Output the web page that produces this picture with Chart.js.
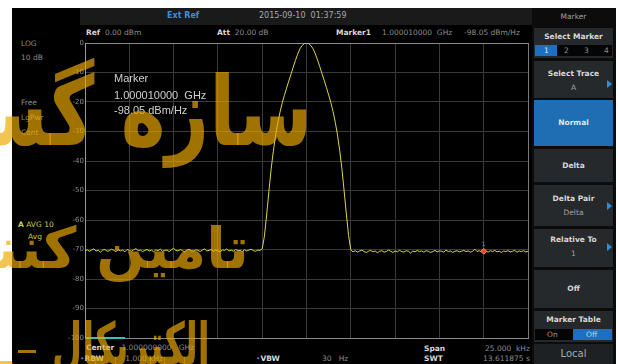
<!DOCTYPE html>
<html>
<head>
<meta charset="utf-8">
<script src="https://cdn.jsdelivr.net/npm/chart.js@4.4.1/dist/chart.umd.min.js"></script>
<style>
  html, body { margin: 0; padding: 0; background: #fff; width: 618px; height: 364px; overflow: hidden; }
  .abs { position: absolute; white-space: nowrap; }
  .t { position: absolute; white-space: nowrap; font-family: "DejaVu Sans", sans-serif; font-size: 7.5px; line-height: 10px; color: #8c8c8c; }
  .b { font-weight: bold; color: #d8d8d8; }
  .btn { position: absolute; left: 534px; width: 79px; background: #26292c; }
  .bt { position: absolute; left: 0; width: 100%; text-align: center; font-family: "DejaVu Sans", sans-serif; font-size: 7.5px; line-height: 10px; }
  .tri { position: absolute; left: 73px; width: 0; height: 0; border-top: 4px solid transparent; border-bottom: 4px solid transparent; border-left: 5px solid #2a8de0; }
  #wm { position: absolute; left: 0; top: 0; width: 618px; height: 364px; overflow: hidden; pointer-events: none; z-index: 10; }
  .w { position: absolute; white-space: nowrap; direction: rtl; font-family: "DejaVu Sans", sans-serif; font-weight: bold; color: rgba(236, 168, 0, 0.68); transform-origin: right center; }
</style>
</head>
<body>
<!-- instrument screen -->
<div class="abs" style="left:12px;top:8px;width:604px;height:356px;background:#000"></div>
<div class="abs" style="left:80px;top:8px;width:452px;height:17px;background:#1a1a1a"></div>
<div class="abs" style="left:532px;top:8px;width:84px;height:356px;background:#0c0c0c"></div>

<!-- header -->
<div class="t" style="left:167px;top:11px;color:#3a8fe0;font-weight:bold;font-size:8px">Ext Ref</div>
<div class="t" style="left:259px;top:11px;color:#a8a8a8;font-size:8px">2015-09-10&nbsp;&nbsp;01:37:59</div>

<!-- info line above the plot -->
<div class="t" style="left:86px;top:28px"><span class="b">Ref</span>&nbsp;&nbsp;0.00 dBm</div>
<div class="t" style="left:217px;top:28px"><span class="b">Att</span>&nbsp;&nbsp;20.00 dB</div>
<div class="t" style="left:336px;top:28px"><span class="b">Marker1</span></div>
<div class="t" style="left:382px;top:28px">1.000010000&nbsp;&nbsp;GHz</div>
<div class="t" style="left:464px;top:28px">-98.05 dBm/Hz</div>

<!-- left status column -->
<div class="t" style="left:21px;top:39px">LOG</div>
<div class="t" style="left:21px;top:53px">10 dB</div>
<div class="t" style="left:21px;top:98px">Free</div>
<div class="t" style="left:21px;top:113px">LgPwr</div>
<div class="t" style="left:21px;top:128px">Cont</div>
<div class="t" style="left:18px;top:220px;color:#c8cc58"><b>A</b> AVG 10</div>
<div class="t" style="left:28px;top:232px;color:#c8cc58">Avg</div>

<!-- bottom status -->
<div class="t" style="left:86px;top:343px"><span class="b">Center</span>&nbsp;&nbsp;&nbsp;1.000000000&nbsp;&nbsp;&nbsp;GHz</div>
<div class="t" style="left:80px;top:354px"><span style="color:#3a8fe0">&bull;</span><span class="b">RBW</span>&nbsp;&nbsp;&nbsp;&nbsp;&nbsp;&nbsp;&nbsp;&nbsp;&nbsp;1.000 kHz</div>
<div class="t" style="left:256px;top:354px"><span style="color:#3a8fe0">&bull;</span><span class="b">VBW</span></div>
<div class="t" style="left:322px;top:354px">30&nbsp;&nbsp;&nbsp;Hz</div>
<div class="t" style="left:424px;top:344px"><span class="b">Span</span></div>
<div class="t" style="left:485px;top:344px">25.000&nbsp;&nbsp;kHz</div>
<div class="t" style="left:424px;top:354px"><span class="b">SWT</span></div>
<div class="t" style="left:483px;top:354px">13.611875 s</div>

<!-- softkey panel -->
<div class="bt" style="left:534px;width:79px;top:12px;color:#a0a0a0;position:absolute">Marker</div>
<div class="btn" style="top:28px;height:30px">
  <div class="bt b" style="top:4px">Select Marker</div>
  <div class="abs" style="left:1px;top:17px;width:22px;height:11px;background:#1c6fc2"></div>
  <div class="abs" style="left:23px;top:17px;width:55px;height:11px;background:#050505"></div>
  <div class="t" style="left:10px;top:18px;color:#e0e0e0">1</div>
  <div class="t" style="left:30px;top:18px">2</div>
  <div class="t" style="left:50px;top:18px">3</div>
  <div class="t" style="left:70px;top:18px">4</div>
</div>
<div class="btn" style="top:61px;height:37px">
  <div class="bt b" style="top:8px">Select Trace</div>
  <div class="bt" style="top:22px;color:#a0a0a0">A</div>
  <div class="tri" style="top:19px"></div>
</div>
<div class="btn" style="top:100px;height:46px;background:#1f6db3">
  <div class="bt b" style="top:18px;color:#dfe8f0">Normal</div>
</div>
<div class="btn" style="top:149px;height:33px">
  <div class="bt b" style="top:12px">Delta</div>
</div>
<div class="btn" style="top:185px;height:41px">
  <div class="bt b" style="top:9px">Delta Pair</div>
  <div class="bt" style="top:23px;color:#a0a0a0">Delta</div>
  <div class="tri" style="top:17px"></div>
</div>
<div class="btn" style="top:229px;height:38px">
  <div class="bt b" style="top:6px">Relative To</div>
  <div class="bt" style="top:20px;color:#a0a0a0">1</div>
  <div class="tri" style="top:14px"></div>
</div>
<div class="btn" style="top:270px;height:38px">
  <div class="bt b" style="top:14px">Off</div>
</div>
<div class="btn" style="top:311px;height:31px">
  <div class="bt b" style="top:4px">Marker Table</div>
  <div class="abs" style="left:1px;top:18px;width:38px;height:11px;background:#050505"></div>
  <div class="abs" style="left:39px;top:18px;width:39px;height:11px;background:#1c6fc2"></div>
  <div class="t" style="left:13px;top:19px;color:#9a9a9a">On</div>
  <div class="t" style="left:52px;top:19px;color:#d0d0d0">Off</div>
</div>
<div class="btn" style="top:344px;height:20px;background:#1e2124">
  <div class="bt" style="top:4px;font-size:10px;line-height:12px;color:#a8a8a8">Local</div>
</div>

<!-- trace display -->
<canvas id="c" width="618" height="364" style="position:absolute;left:0;top:0"></canvas>

<!-- marker readout inside the graticule -->
<div class="abs" style="left:114px;top:71px;font-family:'Liberation Sans',Arial,sans-serif;font-size:11px;line-height:14px;color:#cfcfcf">Marker</div>
<div class="abs" style="left:114px;top:88px;font-family:'Liberation Sans',Arial,sans-serif;font-size:11px;line-height:14px;color:#cfcfcf">1.000010000&nbsp;&nbsp;GHz</div>
<div class="abs" style="left:114px;top:103px;font-family:'Liberation Sans',Arial,sans-serif;font-size:11px;line-height:14px;color:#cfcfcf">-98.05 dBm/Hz</div>

<!-- site watermark -->
<div id="wm">
  <div class="w" style="right:306px;top:52px;font-size:96px;line-height:120px;transform:scaleX(0.79)">سازه گستر</div>
  <div class="w" style="right:369px;top:208px;font-size:57px;line-height:80px">تامین کننده</div>
  <div class="w" style="right:408px;top:309px;font-size:58px;line-height:70px;transform:scaleX(0.6)">الکتریکال</div>
  <div class="w" style="left:18px;top:350px;width:18px;height:3px;direction:ltr;background:rgba(236,168,0,0.7)"></div>
  <div class="w" style="right:606px;top:322px;font-size:40px;line-height:60px">ـه</div>
</div>

<script>
// Sweep: 201 points across a 25 kHz span centred on 1.000000000 GHz
const centerGHz = 1.0;
const spanKHz = 25;
const sweepStartKHz = -12.5;
const sweepStepKHz = 0.125;

// Trace A (AVG 10) levels in dB, one per sweep point
const noiseLeft = [
  -70.4,-70.1,-70.6,-70.2,-69.8,-70.5,-70.3,-70.9,-70.2,-70.0,
  -70.6,-70.4,-69.9,-70.3,-70.7,-70.1,-70.5,-70.2,-70.8,-70.0,
  -70.3,-70.6,-70.1,-69.7,-70.4,-70.2,-70.7,-70.3,-70.0,-70.5,
  -70.2,-70.8,-70.1,-70.4,-69.9,-70.6,-70.3,-70.2,-70.7,-70.1,
  -69.6,-70.3,-70.5,-70.0,-70.4,-70.8,-70.2,-69.9,-70.4,-70.6,
  -70.1,-70.3,-70.7,-70.2,-69.8,-70.5,-70.3,-70.0,-70.6,-70.2,
  -70.4,-70.9,-70.1,-70.3,-69.8,-70.5,-70.2,-70.6,-70.0,-70.4,
  -70.3,-70.7,-70.1,-70.5,-70.2,-69.9,-70.4,-70.6,-70.2,-70.3
];
const signalBand = [
  -69.8,-65.5,-58.3,-50.5,-43.0,-36.8,-31.5,-27.2,-23.6,-20.4,
  -17.8,-15.3,-12.9,-10.6,-8.2,-5.9,-3.8,-2.0,-0.9,-0.2,
  0.0,
  -0.2,-0.9,-2.0,-3.7,-5.8,-8.0,-10.4,-12.7,-15.1,-17.6,
  -20.2,-23.3,-26.9,-31.2,-36.5,-42.7,-50.2,-58.0,-65.3,-70.1
];
const noiseRight = [
  -70.8,-70.4,-70.9,-70.5,-70.2,-70.7,-71.0,-70.6,-70.3,-70.8,
  -70.5,-71.1,-70.6,-70.4,-70.9,-70.7,-70.2,-70.6,-71.0,-70.5,
  -70.8,-70.3,-70.7,-70.9,-70.4,-70.6,-71.2,-70.5,-70.8,-70.3,
  -70.7,-70.5,-70.9,-70.4,-70.6,-71.0,-70.7,-70.3,-70.8,-70.5,
  -70.6,-70.9,-70.2,-70.7,-70.5,-71.0,-70.6,-70.4,-70.8,-70.6,
  -70.3,-70.7,-70.5,-70.9,-70.6,-69.9,-70.7,-70.4,-70.8,-70.6,
  -70.5,-70.9,-70.4,-70.7,-70.3,-70.8,-70.6,-71.0,-70.5,-70.7,
  -70.4,-70.8,-70.6,-70.3,-70.9,-70.5,-70.7,-70.4,-70.8,-70.6
];
const traceLevels = noiseLeft.concat(signalBand, noiseRight);

// Marker 1 frequency offset from centre, kHz
const markerOffsetKHz = 10;

// Amplitude graticule: Ref 0 dBm, 10 dB/div
const yTickLabels = ['-100','-90','-80','-70','-60','-50','-40','-30','-20','-10','0'];

const tracePoints = traceLevels.map((v, i) => ({ x: sweepStartKHz + i * sweepStepKHz, y: v }));
const markerIndex = Math.round((markerOffsetKHz - sweepStartKHz) / sweepStepKHz);
const markerPoint = [{ x: markerOffsetKHz, y: traceLevels[markerIndex] }];

// marker number above the marker diamond, plus the scale bar on the bottom edge
const overlayPlugin = {
  id: 'overlay',
  afterDatasetsDraw(chart) {
    const { ctx, chartArea, scales } = chart;
    ctx.save();
    ctx.strokeStyle = '#2ec4c8';
    ctx.lineWidth = 2;
    ctx.beginPath();
    ctx.moveTo(chartArea.left, chartArea.bottom);
    ctx.lineTo(chartArea.left + 40, chartArea.bottom);
    ctx.stroke();
    const mx = scales.x.getPixelForValue(markerPoint[0].x);
    const my = scales.y.getPixelForValue(markerPoint[0].y);
    ctx.fillStyle = '#6a9ad8';
    ctx.font = '6px "DejaVu Sans"';
    ctx.textAlign = 'center';
    ctx.fillText('1', mx, my - 5);
    ctx.restore();
  }
};

new Chart(document.getElementById('c'), {
  type: 'line',
  data: {
    datasets: [
      {
        data: tracePoints,
        borderColor: '#d8d840',
        borderWidth: 1,
        pointRadius: 0,
        tension: 0,
        order: 2
      },
      {
        data: markerPoint,
        showLine: false,
        pointStyle: 'rectRot',
        pointRadius: 3,
        pointBackgroundColor: '#e0501c',
        pointBorderColor: '#ff8030',
        pointBorderWidth: 1,
        order: 1
      }
    ]
  },
  options: {
    responsive: false,
    animation: false,
    events: [],
    layout: { padding: { left: 61, top: 43, right: 90, bottom: 26 } },
    plugins: { legend: { display: false }, tooltip: { enabled: false } },
    scales: {
      x: {
        type: 'linear',
        min: -spanKHz / 2,
        max: spanKHz / 2,
        ticks: { display: false, stepSize: 2.5 },
        grid: {
          color: (c) => (c.index === 0 || c.index === 10) ? '#7a7a7a' : '#3a3a3a',
          lineWidth: 1,
          drawTicks: false
        },
        border: { display: true, color: '#8a8a8a' },
        afterFit: (s) => { s.height = 0; }
      },
      y: {
        min: -100,
        max: 0,
        ticks: {
          stepSize: 10,
          color: '#8a8a8a',
          font: { family: 'DejaVu Sans', size: 7 },
          padding: 1,
          callback: (v, i) => yTickLabels[i]
        },
        grid: {
          color: (c) => (c.index === 0 || c.index === 10) ? '#8a8a8a' : '#3a3a3a',
          lineWidth: 1,
          drawTicks: false
        },
        border: { display: true, color: '#9a9a9a' },
        afterFit: (s) => { s.width = 24; }
      }
    }
  },
  plugins: [overlayPlugin]
});
</script>
</body>
</html>
